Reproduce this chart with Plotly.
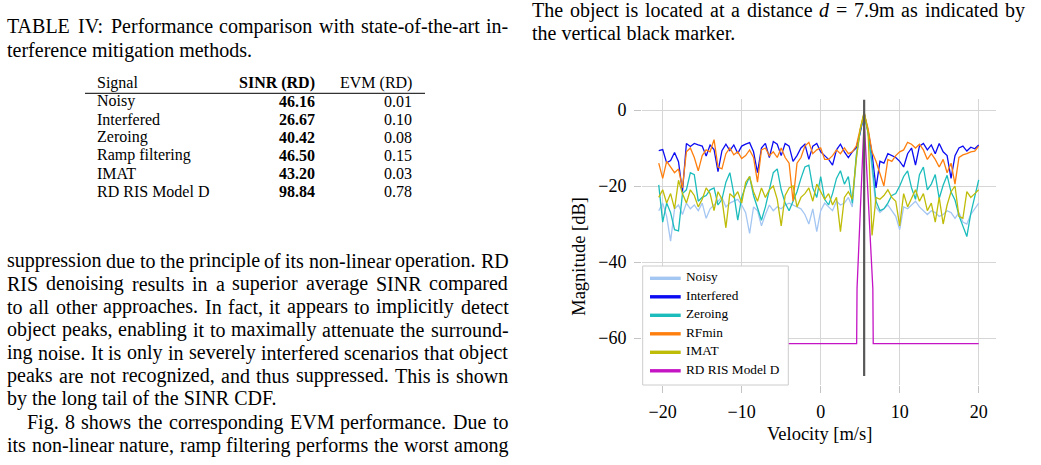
import re
import plotly.graph_objects as go

# ---------------- data ----------------
velocity = [-20.5, -20.0, -19.5, -19.0, -18.5, -18.0, -17.5, -17.0, -16.5, -16.0,
            -15.5, -15.0, -14.5, -14.0, -13.5, -13.0, -12.5, -12.0, -11.5, -11.0,
            -10.5, -10.0, -9.5, -9.0, -8.5, -8.0, -7.5, -7.0, -6.5, -6.0,
            -5.5, -5.0, -4.5, -4.0, -3.5, -3.0, -2.5, -2.0, -1.5, -1.0,
            -0.5, 0.0, 0.5, 1.0, 1.5, 2.0, 2.5, 3.0, 3.5, 4.0,
            4.5, 5.0, 5.5, 6.0, 6.5, 7.0, 7.5, 8.0, 8.5, 9.0,
            9.5, 10.0, 10.5, 11.0, 11.5, 12.0, 12.5, 13.0, 13.5, 14.0,
            14.5, 15.0, 15.5, 16.0, 16.5, 17.0, 17.5, 18.0, 18.5, 19.0,
            19.5, 20.0]

noisy = [-26.5, -24.5, -28.0, -34.5, -26.0, -25.0, -27.5, -24.5, -26.0, -25.0,
         -26.5, -24.5, -28.5, -26.0, -25.0, -24.0, -23.0, -25.5, -24.5, -24.0,
         -23.5, -25.0, -27.0, -32.5, -25.5, -26.5, -30.5, -27.5, -25.0, -26.5,
         -25.5, -26.0, -25.0, -24.5, -25.0, -25.5, -26.0, -27.5, -30.0, -26.0,
         -32.0, -26.5, -24.5, -25.5, -26.5, -24.0, -25.0, -24.5, -23.0, -25.5,
         -13.0, -5.5, -1.0, -6.0, -16.0, -25.5, -27.0, -26.0, -25.0, -26.5,
         -28.0, -31.5, -25.5, -26.0, -25.0, -24.0, -25.5, -26.5, -27.5, -26.5,
         -27.0, -28.0, -27.5, -26.5, -27.0, -28.5, -27.0, -29.5, -30.0, -27.5,
         -26.0, -24.5]

interfered = [-10.7, -10.4, -13.9, -13.3, -11.2, -13.6, -21.5, -8.8, -9.6, -8.8,
              -9.2, -9.5, -12.1, -9.2, -10.4, -16.2, -10.7, -9.0, -10.7, -9.2,
              -11.4, -9.5, -9.0, -8.6, -11.0, -16.5, -10.0, -8.8, -12.5, -8.3,
              -9.0, -12.0, -8.8, -9.5, -13.5, -12.0, -10.0, -9.0, -13.0, -9.5,
              -8.8, -11.0, -12.0, -13.0, -14.5, -10.5, -9.0, -11.0, -12.5, -11.0,
              -10.0, -6.0, -0.9, -5.5, -11.5, -20.5, -13.5, -14.0, -11.5, -12.0,
              -12.5, -13.5, -15.0, -11.5, -10.0, -14.5, -9.5, -8.8, -10.5, -9.2,
              -11.5, -8.8, -11.0, -12.0, -18.0, -12.0, -10.0, -9.5, -10.8, -9.8,
              -10.2, -9.2]

zeroing = [-19.7, -29.5, -24.5, -27.0, -31.5, -31.8, -22.0, -21.0, -16.5, -17.0,
           -24.0, -23.0, -22.5, -21.0, -20.5, -25.0, -23.5, -19.0, -16.5, -22.0,
           -29.0, -23.0, -20.0, -17.5, -22.5, -26.0, -29.0, -25.5, -21.0, -16.5,
           -15.5, -21.0, -24.5, -26.5, -24.0, -21.5, -18.0, -15.0, -14.5, -20.5,
           -23.0, -17.5, -23.5, -25.0, -22.0, -18.0, -16.0, -19.5, -17.5, -24.5,
           -12.0, -5.5, -1.2, -6.0, -14.0, -24.0, -26.5, -26.0, -24.5, -22.5,
           -22.0, -20.0, -17.5, -16.0, -20.5, -23.5, -17.0, -15.0, -21.0, -19.5,
           -17.0, -23.3, -19.8, -17.2, -21.6, -23.7, -27.8, -30.7, -33.3, -27.2,
           -22.8, -18.4]

rfmin = [-14.0, -18.0, -13.5, -15.0, -16.5, -15.5, -20.5, -11.0, -10.0, -12.5,
         -16.0, -12.0, -10.5, -11.0, -7.8, -15.0, -15.5, -11.5, -10.0, -11.8,
         -11.0, -12.8, -12.0, -10.5, -12.5, -19.0, -10.5, -10.0, -12.0, -11.0,
         -12.5, -10.0, -12.5, -14.0, -24.0, -14.0, -12.5, -9.5, -8.5, -11.5,
         -10.5, -10.0, -13.0, -13.0, -12.0, -10.5, -11.5, -10.0, -11.5, -11.0,
         -9.5, -5.0, -0.8, -5.0, -11.0, -13.5, -16.5, -20.0, -13.0, -13.5,
         -12.0, -11.0, -10.5, -8.5, -9.0, -10.0, -9.0, -10.5, -13.0, -11.5,
         -13.0, -15.0, -13.0, -16.5, -14.0, -19.5, -12.5, -11.8, -11.5, -11.0,
         -10.8, -9.5]

imat = [-23.0, -21.0, -24.5, -22.0, -26.0, -18.5, -22.0, -24.5, -21.0, -22.5,
        -25.5, -23.5, -20.5, -22.0, -26.5, -21.5, -23.5, -31.0, -22.0, -23.0,
        -21.5, -24.5, -19.0, -17.5, -21.5, -24.0, -20.5, -23.0, -21.0, -20.0,
        -23.5, -30.5, -22.5, -20.5, -20.0, -25.5, -23.0, -22.0, -20.5, -24.0,
        -19.5, -21.5, -23.5, -22.0, -25.0, -23.0, -32.0, -23.0, -21.5, -23.5,
        -13.0, -5.0, -0.4, -6.0, -33.0, -23.0, -23.5, -22.5, -21.0, -23.0,
        -24.0, -30.5, -22.0, -25.5, -23.0, -21.0, -24.0, -22.0, -26.5, -24.5,
        -29.5, -23.0, -30.0, -25.0, -21.5, -20.0, -28.0, -28.5, -21.5, -23.0,
        -22.0, -21.0]

rdris_velocity = [-20.5, 4.55, 4.6, 5.5, 6.6, 6.65, 20.0]
rdris = [-61.5, -61.5, -47.0, -2.5, -47.0, -61.5, -61.5]

marker_velocity = 5.5
marker_span = [-70.0, 2.7]

series_names = ["Noisy", "Interfered", "Zeroing", "RFmin", "IMAT", "RD RIS Model D"]
series_colors = ["#a4c6f2", "#0c0cf2", "#1cbcbc", "#ff7f0e", "#bfbc08", "#c414c4"]

x_ticks = [-20, -10, 0, 10, 20]
y_ticks = [0, -20, -40, -60]

table_signals = ["Noisy", "Interfered", "Zeroing", "Ramp filtering", "IMAT", "RD RIS Model D"]
table_sinr = [46.16, 26.67, 40.42, 46.50, 43.20, 98.84]
table_evm = [0.01, 0.10, 0.08, 0.15, 0.03, 0.78]

caption_lines = ["TABLE IV: Performance comparison with state-of-the-art in-",
                 "terference mitigation methods."]
body_lines = ["suppression due to the principle of its non-linear operation. RD",
              "RIS denoising results in a superior average SINR compared",
              "to all other approaches. In fact, it appears to implicitly detect",
              "object peaks, enabling it to maximally attenuate the surround-",
              "ing noise. It is only in severely interfered scenarios that object",
              "peaks are not recognized, and thus suppressed. This is shown",
              "by the long tail of the SINR CDF.",
              "Fig. 8 shows the corresponding EVM performance. Due to",
              "its non-linear nature, ramp filtering performs the worst among"]
right_lines = ["The object is located at a distance <i>d</i> = 7.9m as indicated by",
               "the vertical black marker."]

# ---------------- layout helpers ----------------
W, H = 1041, 465
ML, MR, MT, MB = 642, 45, 99, 80
PW = W - ML - MR
PH = H - MT - MB
SERIF = "Liberation Serif"


def px(x):
    return (x - ML) / PW


def py(y):
    return (H - MB - y) / PH


TW = {' ': 250, '!': 333, '"': 408, '%': 833, '&': 778, "'": 333, '(': 333, ')': 333,
      ',': 250, '-': 333, '.': 250, '/': 278, ':': 278, ';': 278, '=': 564, '?': 444,
      '[': 333, ']': 333,
      'A': 722, 'B': 667, 'C': 667, 'D': 722, 'E': 611, 'F': 556, 'G': 722, 'H': 722,
      'I': 333, 'J': 389, 'K': 722, 'L': 611, 'M': 889, 'N': 722, 'O': 722, 'P': 556,
      'Q': 722, 'R': 667, 'S': 556, 'T': 611, 'U': 722, 'V': 722, 'W': 944, 'X': 722,
      'Y': 722, 'Z': 611,
      'a': 444, 'b': 500, 'c': 444, 'd': 500, 'e': 444, 'f': 333, 'g': 500, 'h': 500,
      'i': 278, 'j': 278, 'k': 500, 'l': 278, 'm': 778, 'n': 500, 'o': 500, 'p': 500,
      'q': 500, 'r': 333, 's': 389, 't': 278, 'u': 500, 'v': 500, 'w': 722, 'x': 500,
      'y': 500, 'z': 444}


def tw(s, size):
    s = re.sub(r'<[^>]+>', '', s)
    return sum(TW.get(c, 500) for c in s) * size / 1000.0


annotations = []


def word_ann(text, x, baseline, size, anchor='left', angle=0):
    annotations.append(dict(text=text, x=px(x), y=py(baseline - 0.3375 * size),
                            xref='paper', yref='paper', xanchor=anchor, yanchor='middle',
                            showarrow=False, borderpad=0, borderwidth=0, textangle=angle,
                            font=dict(family=SERIF, size=size, color='black')))


def text_line(line, x0, x1, baseline, size, justify):
    words = line.split(' ')
    if not justify:
        word_ann(line, x0, baseline, size)
        return
    widths = [tw(w, size) for w in words]
    gap = (x1 - x0 - sum(widths)) / (len(words) - 1)
    x = x0
    for w, wd in zip(words, widths):
        word_ann(w, x, baseline, size)
        x += wd + gap


BODY = 20
LEFT0, LEFT1 = 7.3, 508.3
RIGHT0, RIGHT1 = 531.7, 1025.0

text_line(caption_lines[0], LEFT0, LEFT1, 33.2, BODY, True)
text_line(caption_lines[1], LEFT0, LEFT1, 57.2, BODY, False)

body_base = 267.4
for k, line in enumerate(body_lines):
    x0 = 26.7 if line.startswith("Fig.") else LEFT0
    justify = not line.startswith("by the long")
    text_line(line, x0, LEFT1, body_base + 23.05 * k, BODY, justify)

text_line(right_lines[0], RIGHT0, RIGHT1, 17.0, BODY, True)
text_line(right_lines[1], RIGHT0, RIGHT1, 39.4, BODY, False)

# table
TS = 16
word_ann("Signal", 96.7, 88.3, TS)
word_ann("<b>SINR (RD)</b>", 315, 88.3, TS, anchor='right')
word_ann("EVM (RD)", 411.7, 88.3, TS, anchor='right')
for k, (sig, s, e) in enumerate(zip(table_signals, table_sinr, table_evm)):
    b = 106.7 + 18.0 * k
    word_ann(sig, 96.7, b, TS)
    word_ann("<b>%.2f</b>" % s, 315, b, TS, anchor='right')
    word_ann("%.2f" % e, 411.7, b, TS, anchor='right')

shapes = [dict(type='line', xref='paper', yref='paper', x0=px(85), x1=px(425),
               y0=py(93.3), y1=py(93.3), line=dict(color='black', width=1))]

# axis titles
word_ann("Velocity [m/s]", 819, 440.5, 18.5, anchor='center')
annotations.append(dict(text="Magnitude [dB]", x=px(578.8), y=py(256), xref='paper',
                        yref='paper', xanchor='center', yanchor='middle', showarrow=False,
                        textangle=-90, borderpad=0, borderwidth=0,
                        font=dict(family=SERIF, size=18.5, color='black')))

# legend (drawn by hand to match the boxed pgfplots legend)
LEG_X0, LEG_X1, LEG_Y0, LEG_Y1 = 642.7, 788.3, 266.0, 385.0
shapes.append(dict(type='rect', xref='paper', yref='paper', layer='above',
                   x0=px(LEG_X0), x1=px(LEG_X1), y0=py(LEG_Y1), y1=py(LEG_Y0),
                   fillcolor='white', line=dict(color='#cccccc', width=1)))
for k, (name, col) in enumerate(zip(series_names, series_colors)):
    ry = 278.3 + 18.5 * k
    shapes.append(dict(type='line', xref='paper', yref='paper', layer='above',
                       x0=px(650), x1=px(680.7), y0=py(ry), y1=py(ry),
                       line=dict(color=col, width=3.4)))
    word_ann(name, 685.5, ry + 3.1, 13.3)

# ---------------- figure ----------------
fig = go.Figure()
all_series = [noisy, interfered, zeroing, rfmin, imat]
for name, col, vals in zip(series_names[:5], series_colors[:5], all_series):
    fig.add_trace(go.Scatter(x=velocity, y=vals, mode='lines', name=name,
                             line=dict(color=col, width=1.3)))
fig.add_trace(go.Scatter(x=rdris_velocity, y=rdris, mode='lines', name=series_names[5],
                         line=dict(color=series_colors[5], width=1.3)))
fig.add_trace(go.Scatter(x=[marker_velocity, marker_velocity], y=marker_span, mode='lines',
                         line=dict(color='#585858', width=2.2), name='object',
                         hoverinfo='skip'))

fig.update_layout(
    width=W, height=H,
    margin=dict(l=ML, r=MR, t=MT, b=MB, autoexpand=False),
    paper_bgcolor='white', plot_bgcolor='white',
    font=dict(family=SERIF, color='black'),
    showlegend=False,
    xaxis=dict(range=[-22.62, 22.19], tickvals=x_ticks, ticks='outside', ticklen=7,
               tickcolor='#c4c4c4', showgrid=True, gridcolor='#d6d6d6', gridwidth=1,
               zeroline=False, showline=False, tickfont=dict(family=SERIF, size=18),
               ticklabelstandoff=3),
    yaxis=dict(range=[-72.37, 2.895], tickvals=y_ticks, ticks='outside', ticklen=7,
               tickcolor='#c4c4c4', showgrid=True, gridcolor='#d6d6d6', gridwidth=1,
               zeroline=False, showline=False, tickfont=dict(family=SERIF, size=18),
               ticklabelstandoff=4),
    annotations=annotations,
    shapes=shapes,
)

fig.write_html("out.html")
